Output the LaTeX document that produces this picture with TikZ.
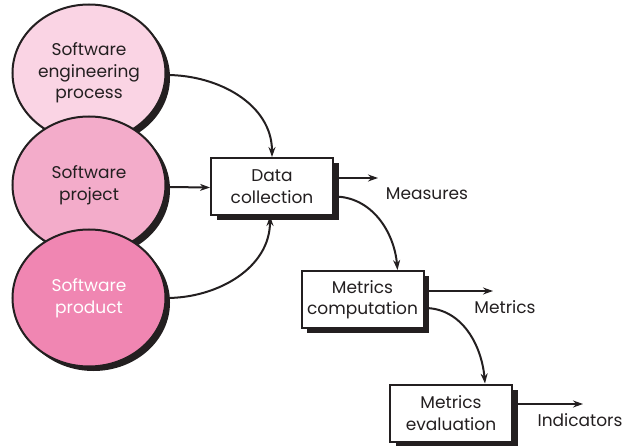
\documentclass[tikz,border=0pt]{standalone}
\usepackage{fontspec}
\setmainfont{Poppins}
\usetikzlibrary{shapes.geometric,shadows,arrows.meta}
\definecolor{pinkA}{RGB}{250,212,228}
\definecolor{pinkB}{RGB}{243,172,202}
\definecolor{pinkC}{RGB}{240,134,178}
\definecolor{ink}{RGB}{35,31,32}
\tikzset{
  blob/.style={ellipse, draw=ink, line width=2pt, minimum width=153pt, minimum height=137pt,
    inner sep=0pt, align=center, font=\fontsize{17}{21.5}\selectfont, text=ink,
    drop shadow={shadow xshift=4.5pt, shadow yshift=-4.5pt, fill=ink, opacity=1}},
  proc/.style={rectangle, draw=ink, fill=white, line width=2pt, minimum width=122pt, minimum height=57pt,
    inner sep=0pt, align=center, font=\fontsize{17}{21.5}\selectfont, text=ink,
    drop shadow={shadow xshift=5.5pt, shadow yshift=-5.5pt, fill=ink, opacity=1}},
  arr/.style={draw=ink, line width=2pt, -{Stealth[length=10pt,width=7pt]}},
  lbl/.style={font=\fontsize{17}{18}\selectfont, text=ink, inner sep=0pt}
}
\begin{document}
\begin{tikzpicture}[x=1pt,y=-1pt]
\useasboundingbox (0,0) rectangle (624,446);
\node[blob, fill=pinkA] (e1) at (89,73) {Software\\engineering\\process};
\node[blob, fill=pinkB] (e2) at (89,185) {Software\\project};
\node[blob, fill=pinkC, text=white] (e3) at (89,298) {Software\\product};

\node[proc] (dc) at (272,186.5) {Data\\collection};
\node[proc] (mc) at (362.5,299.5) {Metrics\\computation};
\node[proc] (me) at (451,413) {Metrics\\evaluation};

\coordinate (m1) at (378,178);
\coordinate (m2) at (493,291);
\coordinate (m3) at (583,404);

\node[lbl] (lm) at (427,194) {Measures};
\node[lbl] (lmt) at (505,307) {Metrics};
\node[lbl] (li) at (580,420) {Indicators};

\draw[arr] ([yshift=-2pt]e1.east) to[out=0,in=90] (dc.north);
\draw[arr] ([yshift=-2pt]e2.east) -- ([yshift=-1pt]dc.west);
\draw[arr] (e3.east) to[out=0,in=-90] ([xshift=-2pt]dc.south);

\draw[arr] ([yshift=8.5pt]dc.east) -- (m1);
\draw[arr] ([yshift=-10pt]dc.east) to[out=0,in=95] ([xshift=35pt]mc.north);
\draw[arr] ([yshift=8.5pt]mc.east) -- (m2);
\draw[arr] ([yshift=-8.5pt]mc.east) to[out=0,in=95] ([xshift=34pt]me.north);
\draw[arr] ([yshift=9pt]me.east) -- (m3);
\end{tikzpicture}
\end{document}
